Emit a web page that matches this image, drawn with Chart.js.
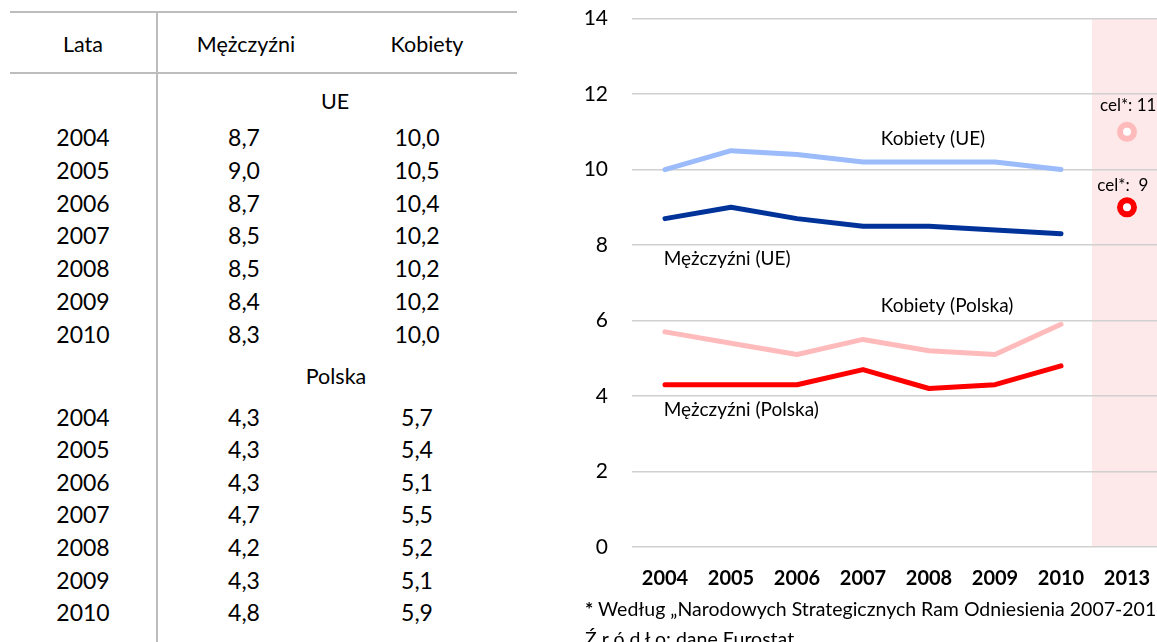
<!DOCTYPE html>
<html lang="pl">
<head>
<meta charset="utf-8">
<script src="https://cdn.jsdelivr.net/npm/chart.js@4.4.1/dist/chart.umd.min.js"></script>
<style>
  html, body { margin: 0; padding: 0; background: #fff; }
  body { width: 1157px; height: 642px; overflow: hidden; position: relative; font-family: Lato, "Open Sans", sans-serif; color: #000; }
  .rule { position: absolute; background: #bdbdbd; }
  .cell { position: absolute; transform: translate(-50%, -50%); white-space: nowrap; }
  #box { position: absolute; left: 570px; top: -18px; width: 603px; height: 629px; }
  .note { position: absolute; left: 585px; font-size: 19.5px; white-space: nowrap; }
</style>
</head>
<body>
<div id="table"></div>
<div id="box"><canvas id="chart" width="603" height="629"></canvas></div>
<div class="note" style="top:597px"><b>*</b> Według „Narodowych Strategicznych Ram Odniesienia 2007-2013”</div>
<div class="note" style="top:627px">Ź r ó d ł o: dane Eurostat</div>
<script>
const years = ['2004', '2005', '2006', '2007', '2008', '2009', '2010'];
const axisLabels = ['2004', '2005', '2006', '2007', '2008', '2009', '2010', '2013'];
const ueMen = [8.7, 9.0, 8.7, 8.5, 8.5, 8.4, 8.3];
const ueWomen = [10.0, 10.5, 10.4, 10.2, 10.2, 10.2, 10.0];
const plMen = [4.3, 4.3, 4.3, 4.7, 4.2, 4.3, 4.8];
const plWomen = [5.7, 5.4, 5.1, 5.5, 5.2, 5.1, 5.9];
const targetWomen = 11;
const targetMen = 9;
const yTicks = [0, 2, 4, 6, 8, 10, 12, 14];

const fmt = v => v.toFixed(1).replace('.', ',');

// table on the left
const table = document.getElementById('table');
function rule(x, y, w, h) {
  const d = document.createElement('div');
  d.className = 'rule';
  Object.assign(d.style, { left: x + 'px', top: y + 'px', width: w + 'px', height: h + 'px' });
  table.appendChild(d);
}
function cell(text, x, y, size) {
  const d = document.createElement('div');
  d.className = 'cell';
  d.textContent = text;
  Object.assign(d.style, { left: x + 'px', top: y + 'px', fontSize: size + 'px' });
  table.appendChild(d);
}
rule(10, 11, 507, 2);
rule(10, 72, 507, 2);
rule(156, 11, 2, 640);
cell('Lata', 83, 44, 21.5);
cell('Mężczyźni', 246, 44, 21.5);
cell('Kobiety', 427, 44, 21.5);
cell('UE', 335, 101, 21.5);
cell('Polska', 336, 376, 21.5);
years.forEach((y, i) => {
  const top1 = 137 + i * 32.8;
  cell(y, 83, top1, 23);
  cell(fmt(ueMen[i]), 244, top1, 23);
  cell(fmt(ueWomen[i]), 417, top1, 23);
  const top2 = 416.5 + i * 32.6;
  cell(y, 83, top2, 23);
  cell(fmt(plMen[i]), 244, top2, 23);
  cell(fmt(plWomen[i]), 417, top2, 23);
});

// chart on the right
const pad = arr => arr.concat([null]);
const lastOnly = v => axisLabels.map((_, i) => i === axisLabels.length - 1 ? v : null);

const notes = [
  { text: 'Kobiety (UE)', i: 3.27, v: 10.82, size: 19 },
  { text: 'Mężczyźni (UE)', i: -0.02, v: 7.64, size: 19 },
  { text: 'Kobiety (Polska)', i: 3.27, v: 6.39, size: 19 },
  { text: 'Mężczyźni (Polska)', i: -0.02, v: 3.62, size: 19 },
  { text: 'cel*: 11', i: 6.59, v: 11.69, size: 17 },
  { text: 'cel*:  9', i: 6.55, v: 9.57, size: 17 }
];

const bandPlugin = {
  id: 'band',
  beforeDraw(chart) {
    const { ctx, chartArea, scales } = chart;
    const x0 = scales.x.getPixelForValue(6.47);
    ctx.save();
    ctx.fillStyle = '#fde9e9';
    ctx.fillRect(x0, chartArea.top, chartArea.right + 20 - x0, chartArea.bottom - chartArea.top);
    ctx.restore();
  },
  afterDatasetsDraw(chart) {
    const { ctx, scales } = chart;
    ctx.save();
    ctx.fillStyle = '#000';
    ctx.textBaseline = 'middle';
    ctx.textAlign = 'left';
    notes.forEach(n => {
      ctx.font = n.size + 'px Lato, sans-serif';
      ctx.fillText(n.text, scales.x.getPixelForValue(n.i), scales.y.getPixelForValue(n.v));
    });
    ctx.restore();
  }
};

const line = (data, color) => ({
  data: pad(data),
  borderColor: color,
  borderWidth: 5,
  pointRadius: 0,
  borderCapStyle: 'round',
  borderJoinStyle: 'round',
  tension: 0
});
const target = (v, color) => ({
  data: lastOnly(v),
  showLine: false,
  pointRadius: 7,
  pointHoverRadius: 7,
  pointBorderWidth: 6,
  pointBorderColor: color,
  pointBackgroundColor: '#fff'
});

new Chart(document.getElementById('chart'), {
  type: 'line',
  data: {
    labels: axisLabels,
    datasets: [
      line(ueWomen, '#9bbbfb'),
      line(ueMen, '#003399'),
      line(plWomen, '#ffbbbb'),
      line(plMen, '#ff0000'),
      target(targetWomen, '#ffbbbb'),
      target(targetMen, '#ff0000')
    ]
  },
  options: {
    responsive: false,
    animation: false,
    layout: { padding: { top: 1, right: 0, bottom: 0, left: 0 } },
    plugins: { legend: { display: false }, tooltip: { enabled: false } },
    scales: {
      x: {
        offset: true,
        grid: { display: false, drawTicks: false },
        border: { display: false },
        ticks: { padding: 20, color: '#000', font: { family: 'Lato', size: 20, weight: 'bold' }, maxRotation: 0 }
      },
      y: {
        min: 0,
        max: 14,
        afterBuildTicks: s => { s.ticks = yTicks.map(v => ({ value: v })); },
        afterFit: s => { s.width = 62; },
        grid: { color: '#d0d0d0', lineWidth: 1.5, drawTicks: false },
        border: { display: false },
        ticks: { padding: 24, color: '#000', font: { family: 'Lato', size: 21 } }
      }
    }
  },
  plugins: [bandPlugin]
});
</script>
</body>
</html>
